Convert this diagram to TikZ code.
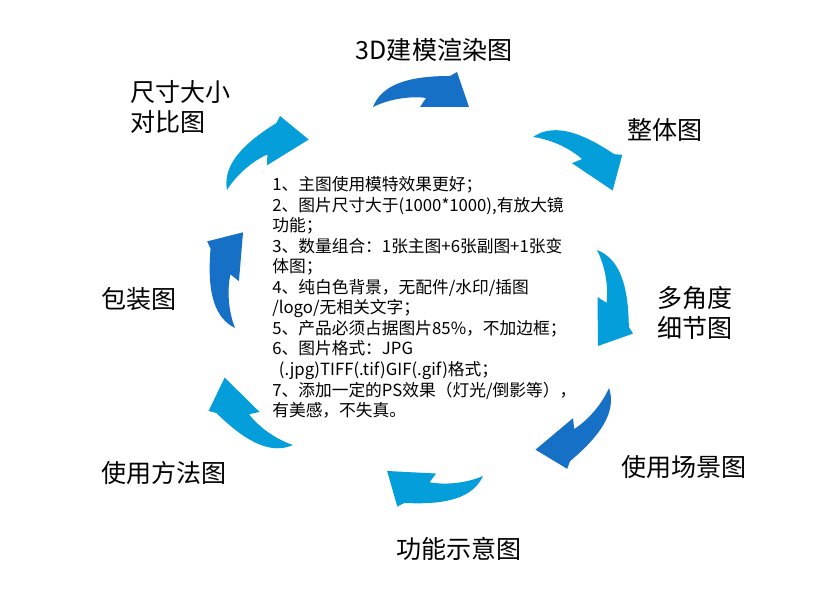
\documentclass[tikz,border=0pt]{standalone}
\usepackage{fontspec}
\newfontfamily\cjksans{Noto Sans CJK SC}
\usepackage{xcolor}
\definecolor{arrdark}{HTML}{1570C6}
\definecolor{arrlight}{HTML}{049FDA}
\tikzset{
  lbl/.style={font=\cjksans\fontsize{17.8pt}{21.3pt}\selectfont, inner sep=0pt, align=left},
  note/.style={font=\cjksans\fontsize{11.9pt}{14.6pt}\selectfont, inner sep=0pt, align=left},
  carrow/.pic={
    \fill[#1] (0,0) .. controls (8,20) and (30,31) .. (77,31)
      -- (84,35) -- (96,0) -- (47,0) -- (53,9)
      .. controls (40,11) and (18,9) .. (0,0) -- cycle;
  },
}

\begin{document}
\begin{tikzpicture}[x=0.025cm, y=0.025cm]
  \fill[white] (0,0) rectangle (832,590);
  \useasboundingbox (0,0) rectangle (832,590);
  % arrows: tail x / tail y / angle / colour
  \foreach \x/\y/\a/\c in {373/483/0/arrdark, 533/453/-33.9/arrlight,
      597/340/-89.4/arrlight, 609/202/-140/arrdark, 483/114/177/arrlight,
      293/145/135.4/arrlight, 235/262/85.2/arrdark, 227/400/31.7/arrlight}
    \pic[rotate=\a] at (\x,\y) {carrow=\c};
  % labels
  \node[lbl] (render) at (434,540) {3D建模渲染图};
  \node[lbl] (whole) at (665,460) {整体图};
  \node[lbl, anchor=west] (angle) at (657,277) {多角度\\细节图};
  \node[lbl] (scene) at (684,123) {使用场景图};
  \node[lbl] (func) at (459,41) {功能示意图};
  \node[lbl] (usage) at (164,117) {使用方法图};
  \node[lbl] (pack) at (139,291) {包装图};
  \node[lbl, anchor=west] (size) at (130,483) {尺寸大小\\对比图};
  \node[note, anchor=west] (notes) at (272,292.5) {%
    1、主图使用模特效果更好；\\
    2、图片尺寸大于(1000*1000),有放大镜\\
    功能；\\
    3、数量组合：1张主图+6张副图+1张变\\
    体图；\\
    4、纯白色背景，无配件/水印/插图\\
    /logo/无相关文字；\\
    5、产品必须占据图片85\%，不加边框；\\
    6、图片格式：JPG\\
    \hspace*{0.4em}(.jpg)TIFF(.tif)GIF(.gif)格式；\\
    7、添加一定的PS效果（灯光/倒影等），\\
    有美感，不失真。};
\end{tikzpicture}
\end{document}
